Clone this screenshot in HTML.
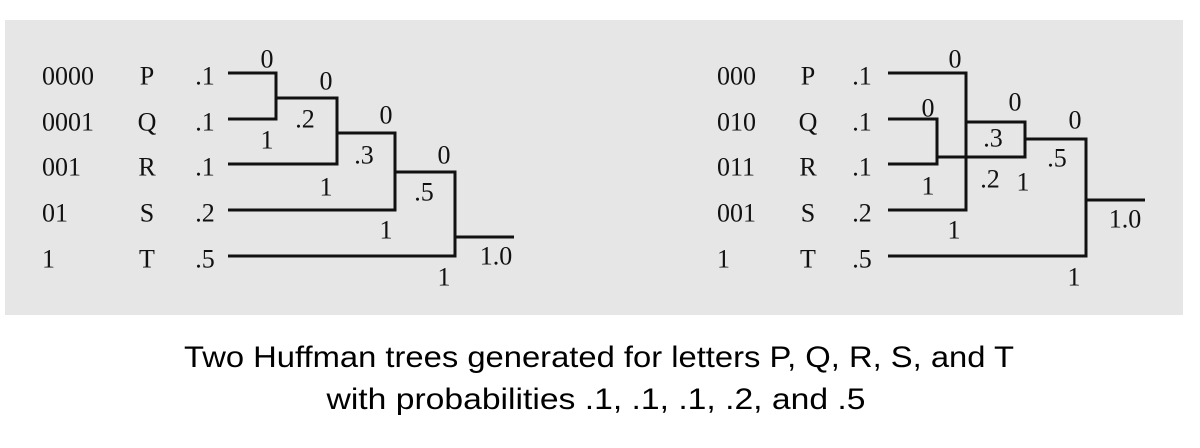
<!DOCTYPE html>
<html><head><meta charset="utf-8">
<style>
html,body{margin:0;padding:0;background:#fff;}
svg{display:block;}
.t{font-family:"Liberation Serif",serif;font-size:26px;fill:#111;}
.c{font-family:"Liberation Sans",sans-serif;font-size:30px;fill:#000;}
</style></head>
<body>
<svg width="1200" height="448" viewBox="0 0 1200 448">
<rect x="5" y="20" width="1178" height="295" fill="#e6e6e6"/>
<g id="left"></g>
<g id="right"></g>
<text class="c" x="599" y="367" text-anchor="middle" textLength="830" lengthAdjust="spacingAndGlyphs">Two Huffman trees generated for letters P, Q, R, S, and T</text>
<text class="c" x="596" y="409" text-anchor="middle" textLength="539" lengthAdjust="spacingAndGlyphs">with probabilities .1, .1, .1, .2, and .5</text>
</svg>
<script>
const rowY=[76,122,167,213,259];
const letters=['P','Q','R','S','T'];
const probs=['.1','.1','.1','.2','.5'];
const codesLeft=['0000','0001','001','01','1'];
const codesRight=['000','010','011','001','1'];
const NS='http://www.w3.org/2000/svg';
function txt(g,x,y,s,anchor){
  const t=document.createElementNS(NS,'text');
  t.setAttribute('class','t');t.setAttribute('x',x);t.setAttribute('y',y);
  t.setAttribute('text-anchor',anchor||'middle');t.setAttribute('dominant-baseline','central');
  t.textContent=s;
  
  
  g.appendChild(t);
}
function path(g,d){
  const p=document.createElementNS(NS,'path');
  p.setAttribute('d',d);p.setAttribute('fill','none');p.setAttribute('stroke','#111');p.setAttribute('stroke-width','3');
  
  
  g.appendChild(p);
}
(function(){
  const g=document.getElementById('left');
  rowY.forEach((y,i)=>{txt(g,42,y,codesLeft[i],'start');txt(g,147,y,letters[i]);txt(g,205,y,probs[i]);});
  path(g,'M228 73H276V119H228');
  path(g,'M276 98H337V164H228');
  path(g,'M337 133H395V210H228');
  path(g,'M395 172H455V256H228');
  path(g,'M455 237H514');
  [[267,59,'0'],[267,140,'1'],[305,119,'.2'],[326,81,'0'],[326,187,'1'],[364,155,'.3'],
   [386,115,'0'],[386,230,'1'],[424,192,'.5'],[444,155,'0'],[444,277,'1'],[496,256,'1.0']]
   .forEach(a=>txt(g,a[0],a[1],a[2]));
})();
(function(){
  const g=document.getElementById('right');
  rowY.forEach((y,i)=>{txt(g,717,y,codesRight[i],'start');txt(g,808,y,letters[i]);txt(g,862,y,probs[i]);});
  path(g,'M888 73H966V210H888');
  path(g,'M888 119H937V164H888');
  path(g,'M937 157H1025V122H966');
  path(g,'M1025 139H1086V256H888');
  path(g,'M1086 200H1145');
  [[955,59,'0'],[928,108,'0'],[928,186,'1'],[954,230,'1'],[993,138,'.3'],[990,179,'.2'],
   [1023,182,'1'],[1015,102,'0'],[1075,120,'0'],[1057,158,'.5'],[1125,219,'1.0'],[1074,277,'1']]
   .forEach(a=>txt(g,a[0],a[1],a[2]));
})();
</script>
</body></html>
